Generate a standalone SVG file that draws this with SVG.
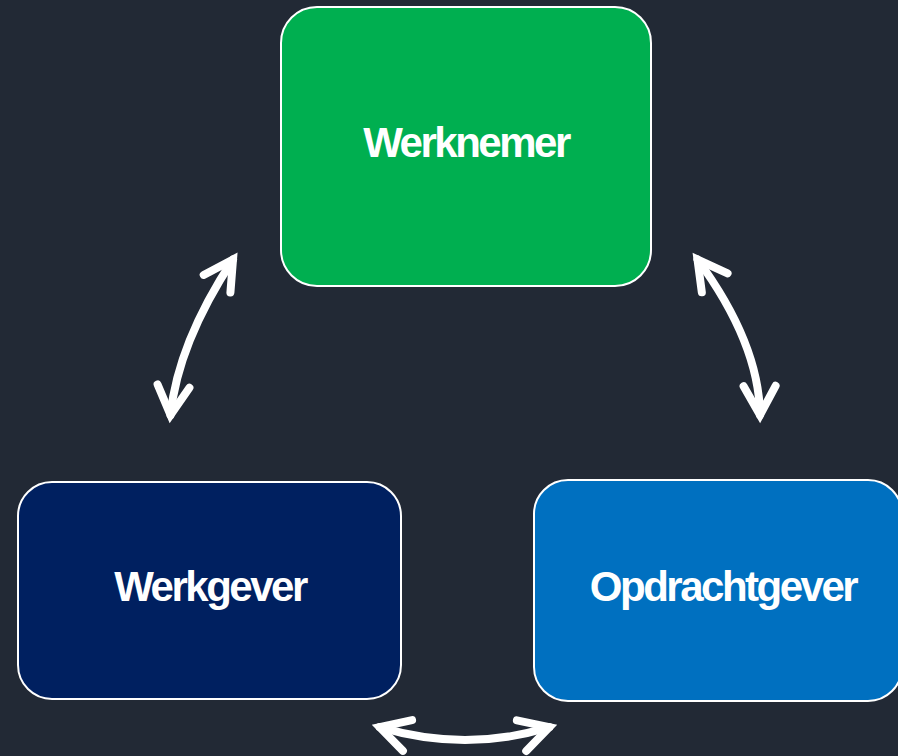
<svg xmlns="http://www.w3.org/2000/svg" width="898" height="756" viewBox="0 0 898 756">
<defs>
<style>
.box{stroke:#ffffff;stroke-width:2}
.lbl{font-family:"Liberation Sans",Arial,sans-serif;font-weight:bold;font-size:42px;letter-spacing:-2.5px;fill:#ffffff;text-anchor:middle}
.conn{fill:none;stroke:#ffffff;stroke-width:8;stroke-linecap:round;marker-start:url(#ah);marker-end:url(#ah)}
</style>
<marker id="ah" markerUnits="userSpaceOnUse" viewBox="-40 -25 50 50" markerWidth="50" markerHeight="50" refX="0" refY="0" orient="auto-start-reverse" overflow="visible">
<path d="M -29,-16 L 0,0 L -29,16" fill="none" stroke="#ffffff" stroke-width="8" stroke-linecap="round" stroke-linejoin="miter"/>
</marker>
</defs>
<rect width="898" height="756" fill="#222935"/>
<g id="werknemer">
<rect class="box" x="281" y="7" width="370" height="279" rx="36" ry="36" fill="#00AF50"/>
<text class="lbl" x="466" y="157">Werknemer</text>
</g>
<g id="werkgever">
<rect class="box" x="18" y="482" width="383" height="217" rx="34" ry="34" fill="#002060"/>
<text class="lbl" x="210" y="601">Werkgever</text>
</g>
<g id="opdrachtgever">
<rect class="box" x="534" y="480" width="368" height="221" rx="34" ry="34" fill="#0070C0"/>
<text class="lbl" x="723" y="601">Opdrachtgever</text>
</g>
<g id="connectors">
<path class="conn" d="M 233,259.5 Q 178,343 170.5,415"/>
<path class="conn" d="M 697.5,259.5 Q 759,343 760,415"/>
<path class="conn" d="M 379.7,727.2 Q 465.5,752.8 549.3,727.2"/>
</g>
</svg>
